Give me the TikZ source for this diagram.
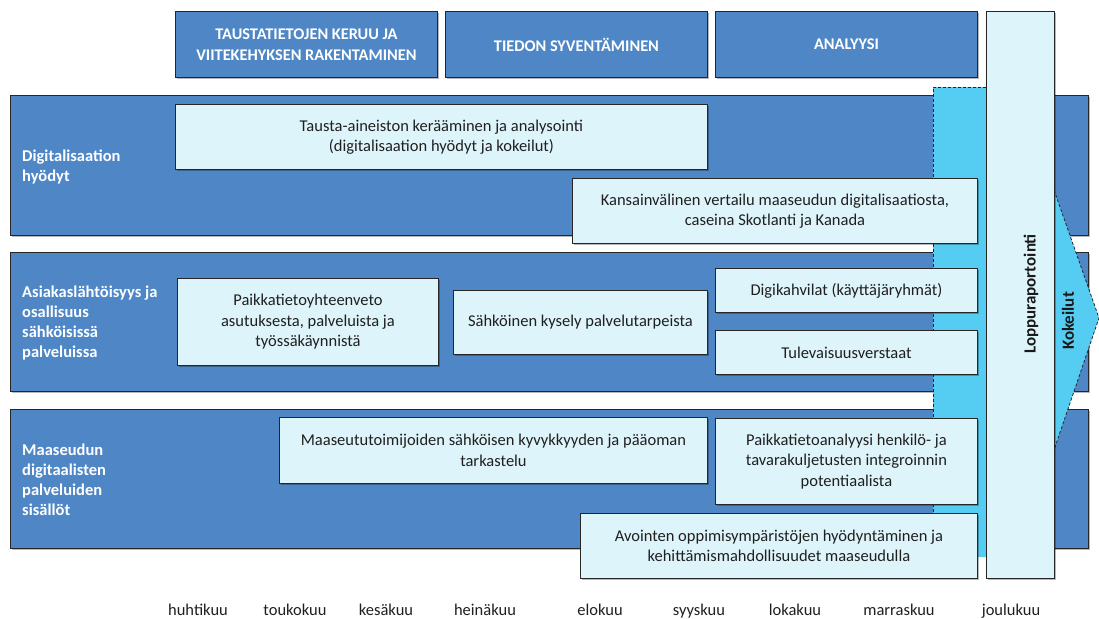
\documentclass[tikz,border=0pt]{standalone}
\usepackage{fontspec}
\setmainfont{Carlito}
\usetikzlibrary{shadows}
\definecolor{bandblue}{RGB}{79,135,198}
\definecolor{lightbox}{RGB}{222,244,251}
\definecolor{cyanarea}{RGB}{85,205,242}
\definecolor{edgecol}{RGB}{38,38,38}
\tikzset{
  shad/.style={drop shadow={shadow xshift=1.5pt, shadow yshift=-1.8pt, opacity=0.28, fill=black}},
  hdrbox/.style={draw=edgecol, line width=0.9pt, fill=bandblue, shad, anchor=north west, inner sep=2pt,
    text=white, align=center, font=\fontsize{16.3}{21}\selectfont\bfseries},
  bandbox/.style={draw=edgecol, line width=0.9pt, fill=bandblue, shad, anchor=north west, inner sep=0pt},
  lbox/.style={draw=edgecol, line width=0.9pt, fill=lightbox, shad, anchor=north west, inner sep=2pt,
    align=center, text=black!88, font=\fontsize{16.5}{20.5}\selectfont},
  rowlabel/.style={anchor=west, align=left, text=white, font=\fontsize{16.5}{20}\selectfont\bfseries, inner sep=0pt},
  dashline/.style={draw=edgecol, line width=0.8pt, dash pattern=on 3pt off 2pt},
  month/.style={anchor=base, font=\fontsize{16.5}{18}\selectfont, text=black!88, inner sep=0pt},
  vlabel/.style={rotate=90, font=\fontsize{17}{18}\selectfont\bfseries, text=black!90},
}
\begin{document}
\begin{tikzpicture}[x=1pt,y=-1pt]
\useasboundingbox (0,0) rectangle (1099,618);

% header boxes
\node[hdrbox, minimum width=262, minimum height=66] (h1) at (175,11) {TAUSTATIETOJEN KERUU JA\\VIITEKEHYKSEN RAKENTAMINEN};
\node[hdrbox, minimum width=262, minimum height=66] (h2) at (445,11) {TIEDON SYVENTÄMINEN};
\node[hdrbox, minimum width=262, minimum height=66] (h3) at (715,11) {ANALYYSI};

% bands
\node[bandbox, minimum width=1078, minimum height=140] (b1) at (10,95) {};
\node[bandbox, minimum width=1078, minimum height=139] (b2) at (10,252) {};
\node[bandbox, minimum width=1078, minimum height=139] (b3) at (10,409) {};

% row labels
\node[rowlabel] (l1) at (22,167) {Digitalisaation\\hyödyt};
\node[rowlabel] (l2) at (22,323) {Asiakaslähtöisyys ja\\osallisuus\\sähköisissä\\palveluissa};
\node[rowlabel] (l3) at (22,480) {Maaseudun\\digitaalisten\\palveluiden\\sisällöt};

% cyan area with arrow
\fill[cyanarea] (933,87) -- (1054,87) -- (1054,190) -- (1099,318) -- (1054,450) -- (1054,557) -- (933,557) -- cycle;
\draw[dashline] (933,557) -- (933,87) -- (986,87);
\draw[dashline] (1054,190) -- (1099,318) -- (1054,450);

% content boxes row 1
\node[lbox, minimum width=532, minimum height=65] (c1) at (175,104) {Tausta-aineiston kerääminen ja analysointi\\(digitalisaation hyödyt ja kokeilut)};
\node[lbox, minimum width=405, minimum height=65] (c2) at (572,178) {Kansainvälinen vertailu maaseudun digitalisaatiosta,\\caseina Skotlanti ja Kanada};

% row 2
\node[lbox, minimum width=261, minimum height=87] (c3) at (177,278) {Paikkatietoyhteenveto\\asutuksesta, palveluista ja\\työssäkäynnistä};
\node[lbox, minimum width=254, minimum height=64] (c4) at (453,290) {Sähköinen kysely palvelutarpeista};
\node[lbox, minimum width=262, minimum height=44] (c5) at (715,268) {Digikahvilat (käyttäjäryhmät)};
\node[lbox, minimum width=262, minimum height=44] (c6) at (715,330) {Tulevaisuusverstaat};

% row 3
\node[lbox, minimum width=428, minimum height=66] (c7) at (279,417) {Maaseututoimijoiden sähköisen kyvykkyyden ja pääoman\\tarkastelu};
\node[lbox, minimum width=262, minimum height=86] (c8) at (715,418) {Paikkatietoanalyysi henkilö- ja\\tavarakuljetusten integroinnin\\potentiaalista};
\node[lbox, minimum width=397, minimum height=65] (c9) at (580,513) {Avointen oppimisympäristöjen hyödyntäminen ja\\kehittämismahdollisuudet maaseudulla};

% final reporting column
\node[lbox, minimum width=68, minimum height=567] (lop) at (986,11) {};
\node[vlabel] (loptext) at (1031,294) {Loppuraportointi};
\node[vlabel] (kok) at (1068,321) {Kokeilut};

% months
\node[month] (m1) at (198,615) {huhtikuu};
\node[month] (m2) at (295,615) {toukokuu};
\node[month] (m3) at (386,615) {kesäkuu};
\node[month] (m4) at (485,615) {heinäkuu};
\node[month] (m5) at (600,615) {elokuu};
\node[month] (m6) at (699,615) {syyskuu};
\node[month] (m7) at (795,615) {lokakuu};
\node[month] (m8) at (899,615) {marraskuu};
\node[month] (m9) at (1011,615) {joulukuu};
\end{tikzpicture}
\end{document}
